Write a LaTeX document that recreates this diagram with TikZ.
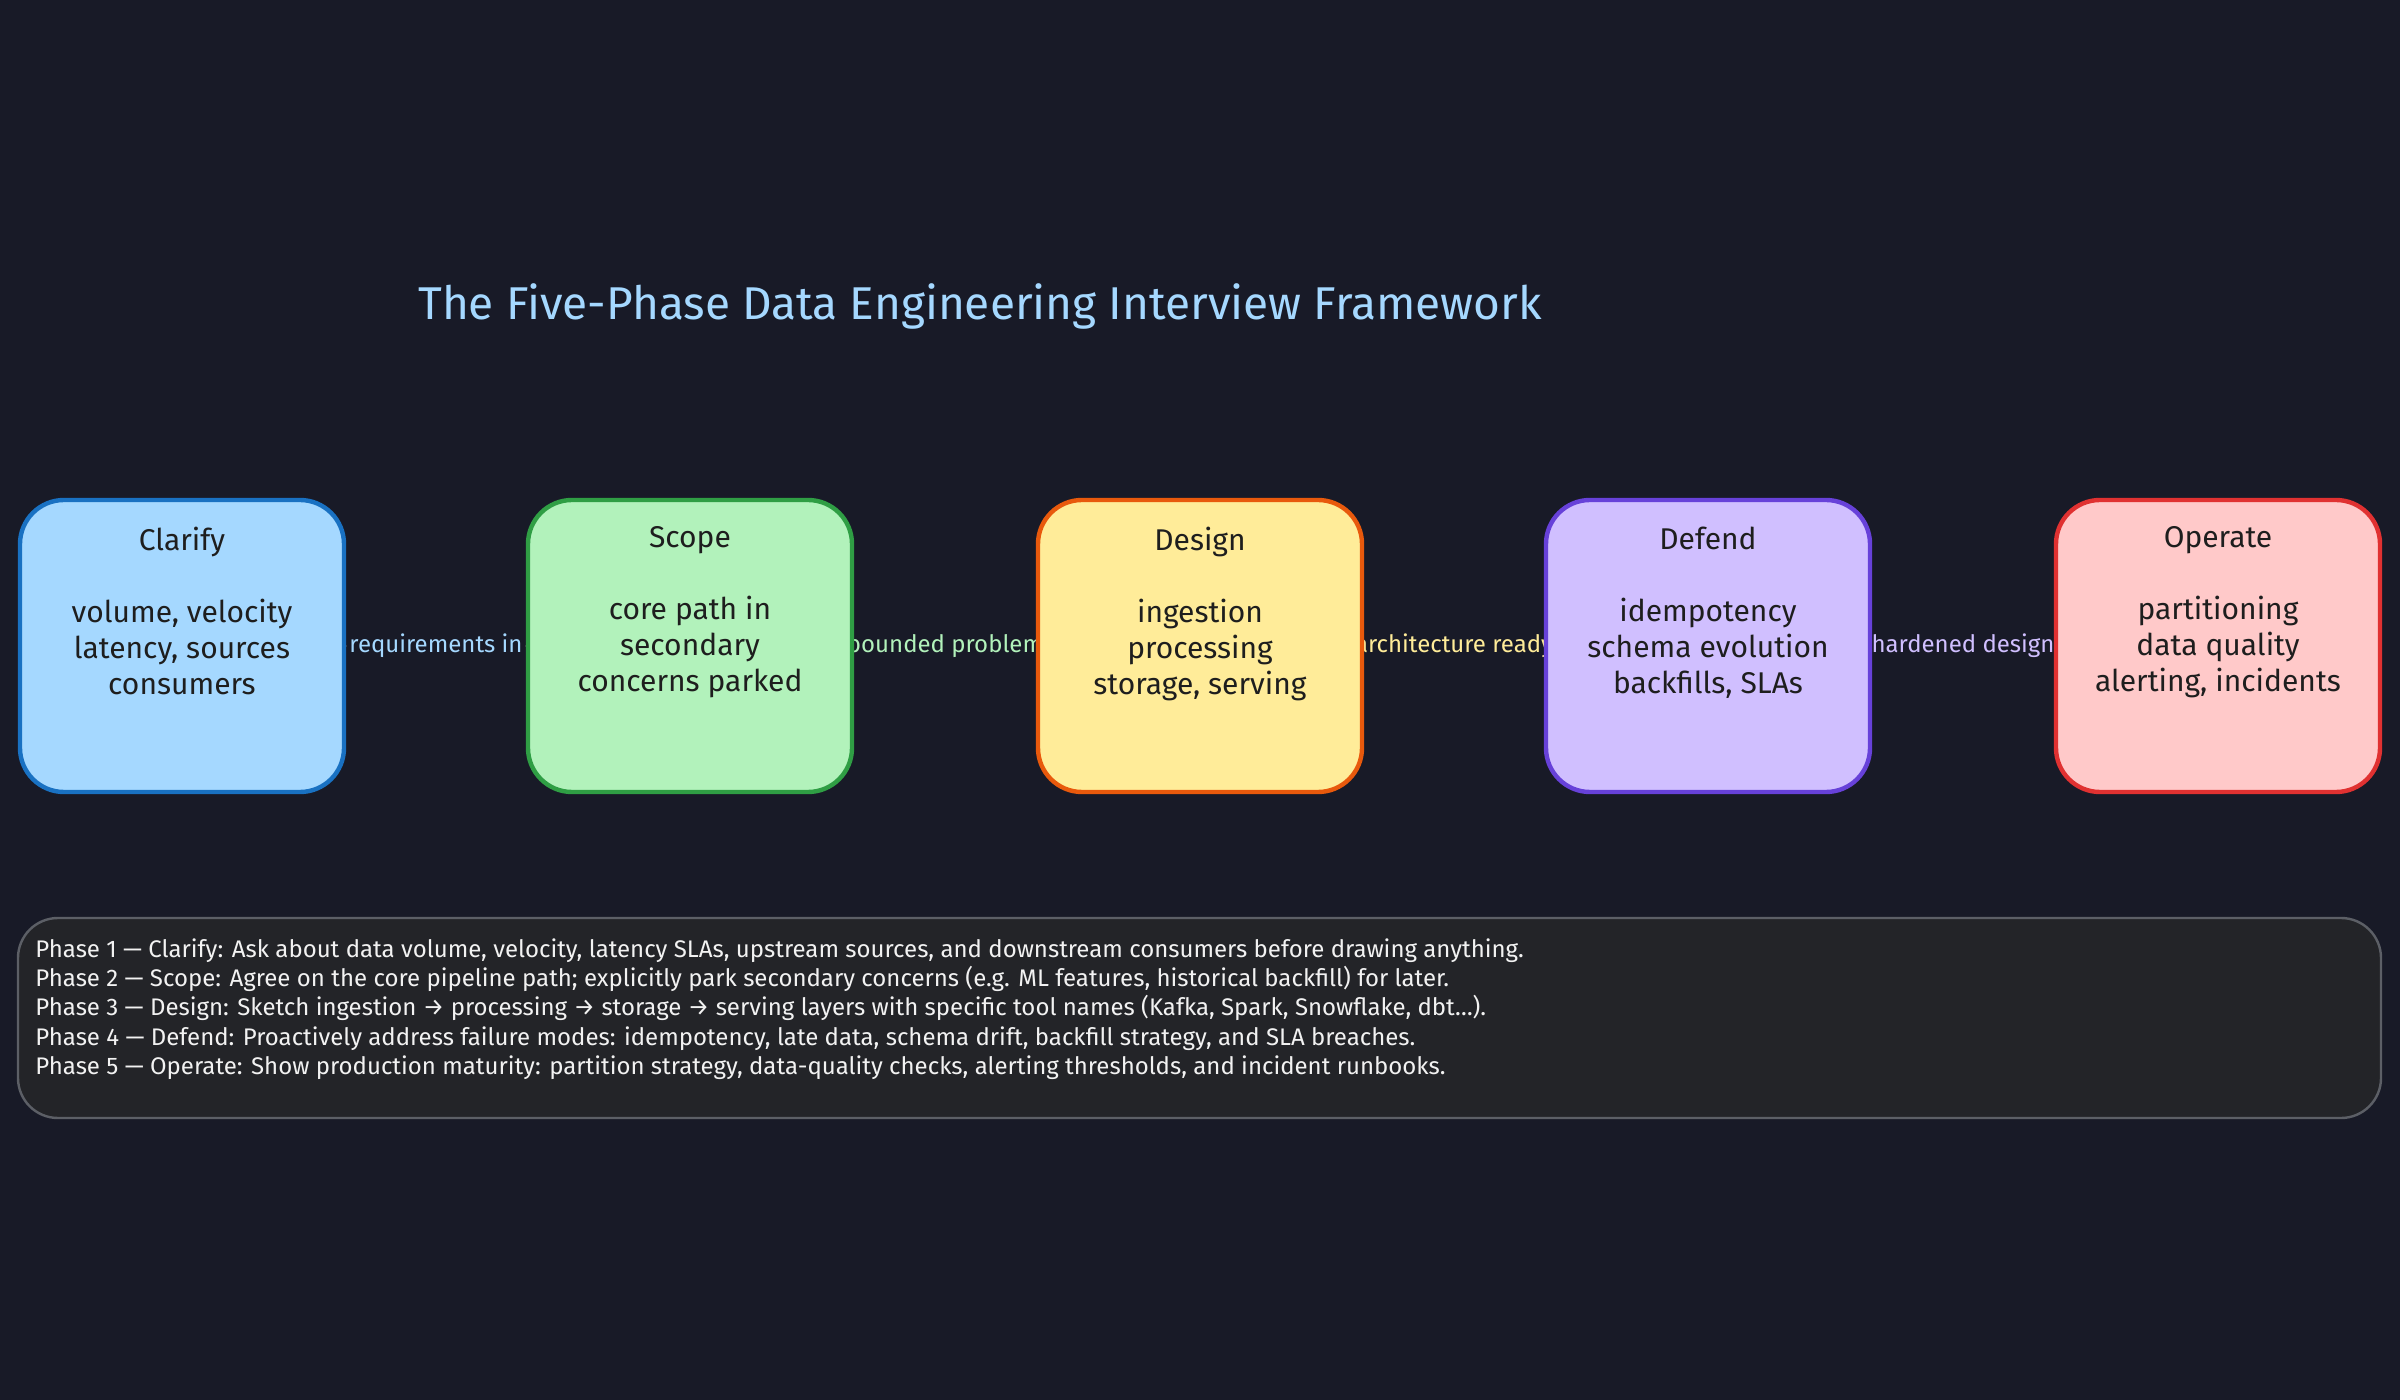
\documentclass[tikz,border=0pt]{standalone}
\usepackage{fontspec}
\setmainfont{Fira Sans}
\usetikzlibrary{arrows.meta}
\definecolor{bg}{HTML}{181A27}
\definecolor{fB}{HTML}{A5D8FF}\definecolor{sB}{HTML}{1971C2}
\definecolor{fG}{HTML}{B2F2BB}\definecolor{sG}{HTML}{2F9E44}
\definecolor{fY}{HTML}{FFEC99}\definecolor{sY}{HTML}{E8590C}
\definecolor{fP}{HTML}{D0BFFF}\definecolor{sP}{HTML}{6741D9}
\definecolor{fR}{HTML}{FFC9C9}\definecolor{sR}{HTML}{E03131}
\definecolor{noteF}{HTML}{232428}\definecolor{noteS}{HTML}{5C5F66}
\definecolor{txt}{HTML}{1E1E1E}
\tikzset{
 phase/.style={draw, line width=2.2pt, rounded corners=22pt, minimum width=162pt, minimum height=146pt, inner sep=0pt},
 lbl/.style={font=\fontsize{12}{14}\selectfont, fill=bg, inner sep=1pt},
 conn/.style={draw=bg!70!gray, line width=1pt, -{Stealth[length=5pt]}},
}
\begin{document}
\begin{tikzpicture}[x=0.5pt,y=-0.5pt]
\fill[bg] (0,0) rectangle (2400,1400);
\useasboundingbox (0,0) rectangle (2400,1400);
\node[text=fB, font=\fontsize{23}{27}\selectfont] (title) at (980,306) {The Five-Phase Data Engineering Interview Framework};
% boxes coordinates
\coordinate (c1) at (182,646);
\coordinate (c2) at (690,646);
\coordinate (c3) at (1200,646);
\coordinate (c4) at (1708,646);
\coordinate (c5) at (2218,646);
% connectors + labels (under boxes)
\draw[conn] (c1) -- node[lbl, text=fB] (l1) {requirements in} (c2);
\draw[conn] (c2) -- node[lbl, text=fG] (l2) {bounded problem} (c3);
\draw[conn] (c3) -- node[lbl, text=fY] (l3) {architecture ready} (c4);
\draw[conn] (c4) -- node[lbl, text=fP] (l4) {hardened design} (c5);
\newcommand{\phasebox}[5]{%
 \node[phase, fill=#2, draw=#3] (#1) at (c#5) {};
 \node[text=txt, font=\fontsize{15}{18}\selectfont, anchor=north, align=center] (#1t) at ([yshift=-11pt]#1.north) {#4};
}
\phasebox{clarify}{fB}{sB}{Clarify\\[18pt]volume, velocity\\latency, sources\\consumers}{1}
\phasebox{scope}{fG}{sG}{Scope\\[18pt]core path in\\secondary\\concerns parked}{2}
\phasebox{design}{fY}{sY}{Design\\[18pt]ingestion\\processing\\storage, serving}{3}
\phasebox{defend}{fP}{sP}{Defend\\[18pt]idempotency\\schema evolution\\backfills, SLAs}{4}
\phasebox{operate}{fR}{sR}{Operate\\[18pt]partitioning\\data quality\\alerting, incidents}{5}
% note
\draw[fill=noteF, draw=noteS, line width=1.2pt, rounded corners=20pt] (18,918) rectangle (2381,1118);
\node[anchor=north west, text=white!90!gray, align=left, font=\fontsize{12}{14.7}\selectfont, inner sep=0pt] (note) at (35,938) {%
Phase 1 — Clarify: Ask about data volume, velocity, latency SLAs, upstream sources, and downstream consumers before drawing anything.\\
Phase 2 — Scope: Agree on the core pipeline path; explicitly park secondary concerns (e.g. ML features, historical backfill) for later.\\
Phase 3 — Design: Sketch ingestion → processing → storage → serving layers with specific tool names (Kafka, Spark, Snowflake, dbt…).\\
Phase 4 — Defend: Proactively address failure modes: idempotency, late data, schema drift, backfill strategy, and SLA breaches.\\
Phase 5 — Operate: Show production maturity: partition strategy, data-quality checks, alerting thresholds, and incident runbooks.};
\end{tikzpicture}
\end{document}
